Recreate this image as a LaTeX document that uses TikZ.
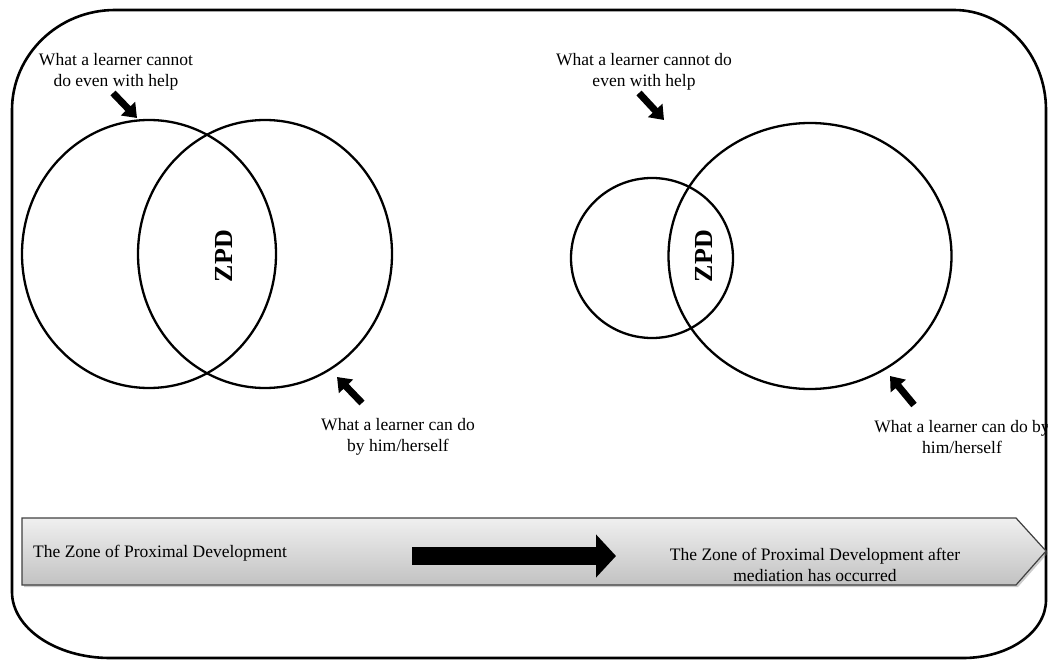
\documentclass[tikz,border=0pt]{standalone}
\usepackage{fontspec}
\setmainfont{Liberation Serif}
\usetikzlibrary{arrows.meta,shapes.geometric,shadows}

\begin{document}
\begin{tikzpicture}
[
    x=1pt, y=-1pt,
    frame/.style={line width=2.6pt},
    zone/.style={draw, ellipse, line width=2.3pt, inner sep=0pt},
    note/.style={align=center, inner sep=0pt, font=\fontsize{17.5}{21}\selectfont},
    zpd/.style={rotate=90, inner sep=0pt, font=\fontsize{26}{28}\selectfont\bfseries},
    pointer/.style={line width=7pt, -{Triangle[length=13pt, width=19pt]}},
    stage/.style={draw=black!75, line width=1.2pt, top color=gray!12, bottom color=gray!48,
        drop shadow={shadow xshift=2pt, shadow yshift=-2pt, opacity=0.4}},
    progress/.style={line width=18pt, -{Triangle[length=20pt, width=42pt]}},
]
\useasboundingbox (0,0) rectangle (1048,660);
\draw[frame] (12,110) .. controls (12,55) and (58,10) .. (115,10) -- (954,10)
    .. controls (1005,10) and (1046,55) .. (1046,110) -- (1046,600)
    .. controls (1046,632) and (1009,658) .. (963,658) -- (110,658)
    .. controls (56,658) and (12,628) .. (12,592) -- cycle;

\node[zone, minimum width=254pt, minimum height=268pt] (cantL) at (149,254) {};
\node[zone, minimum width=254pt, minimum height=268pt] (canL) at (265,254) {};
\node[zpd] (zpdL) at (224,256) {ZPD};
\node[zone, minimum width=162pt, minimum height=160pt] (cantR) at (652,258) {};
\node[zone, minimum width=283pt, minimum height=266pt] (canR) at (810,256) {};
\node[zpd] (zpdR) at (704,256) {ZPD};

\node[note] (cantLtext) at (116,72) {What a learner cannot\\do even with help};
\node[note] (canLtext) at (398,437) {What a learner can do\\by him/herself};
\node[note] (cantRtext) at (644,72) {What a learner cannot do\\even with help};
\node[note] (canRtext) at (962,437) {What a learner can do by\\him/herself};

\coordinate (cantLtail) at (113,93);
\coordinate (cantLtip) at (137,118);
\coordinate (canLtail) at (362,403);
\coordinate (canLtip) at (337,377);
\coordinate (cantRtail) at (639,93);
\coordinate (cantRtip) at (664,120);
\coordinate (canRtail) at (914,405);
\coordinate (canRtip) at (890,376);
\draw[pointer] (cantLtail) -- (cantLtip);
\draw[pointer] (canLtail) -- (canLtip);
\draw[pointer] (cantRtail) -- (cantRtip);
\draw[pointer] (canRtail) -- (canRtip);

\draw[stage] (22,518) -- (1016,518) -- (1046,551) -- (1016,585) -- (22,585) -- cycle;
\node[note, anchor=west] (before) at (33,553) {The Zone of Proximal Development};
\node[note] (after) at (815,565) {The Zone of Proximal Development after\\mediation has occurred};
\coordinate (moveA) at (412,556);
\coordinate (moveB) at (616,556);
\draw[progress] (moveA) -- (moveB);
\end{tikzpicture}
\end{document}
